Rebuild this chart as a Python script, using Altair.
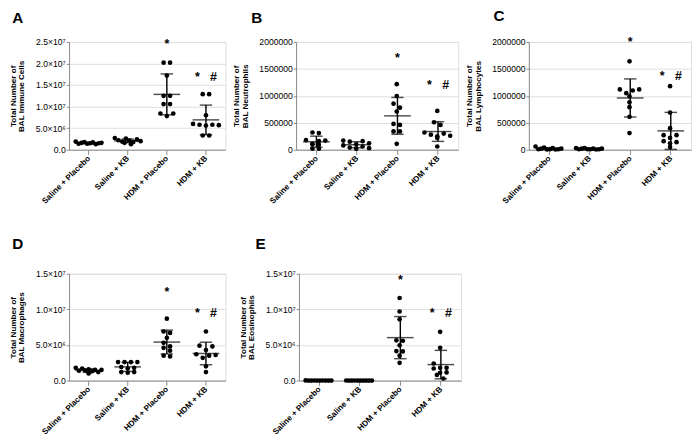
import altair as alt
import pandas as pd

groups = ["Saline + Placebo", "Saline + KB", "HDM + Placebo", "HDM + KB"]

# Panel A: total BAL immune cells
a_saline_placebo = [1.3e6, 1.4e6, 1.4e6, 1.5e6, 1.5e6, 1.6e6, 1.6e6, 1.7e6, 1.8e6, 1.9e6]
a_saline_kb = [1.3e6, 1.6e6, 1.8e6, 1.9e6, 2.0e6, 2.1e6, 2.2e6, 2.4e6, 2.6e6, 2.7e6]
a_hdm_placebo = [2.02e7, 2.02e7, 1.72e7, 1.25e7, 1.25e7, 1.06e7, 1.06e7, 8.4e6, 8.4e6, 7.8e6]
a_hdm_kb = [1.29e7, 1.29e7, 8.0e6, 6.0e6, 5.8e6, 5.7e6, 5.6e6, 5.8e6, 3.3e6, 3.3e6]

# Panel B: neutrophils
b_saline_placebo = [3.2e5, 3.1e5, 1.8e5, 1.7e5, 1.6e5, 1.1e5, 1.0e5, 9e4, 2e4, 2e4]
b_saline_kb = [1.7e5, 1.6e5, 1.5e5, 1.2e5, 1.0e5, 8e4, 6e4, 4e4, 3e4, 2e4]
b_hdm_placebo = [1.216e6, 9.97e5, 8.55e5, 7.8e5, 7.1e5, 4.8e5, 4.6e5, 3.4e5, 3.4e5, 1.1e5]
b_hdm_kb = [7.2e5, 5.1e5, 4.6e5, 3.2e5, 3.0e5, 2.8e5, 2.6e5, 2.5e5, 2.2e5, 6e4]

# Panel C: lymphocytes
c_saline_placebo = [6e4, 4e4, 3e4, 2e4, 2e4, 1e4, 1e4, 1e4, 5e3, 5e3]
c_saline_kb = [3e4, 3e4, 2e4, 2e4, 2e4, 1e4, 1e4, 1e4, 1e4, 5e3]
c_hdm_placebo = [1.64e6, 1.12e6, 1.12e6, 1.10e6, 1.05e6, 9.9e5, 8.8e5, 7.9e5, 6.1e5, 3.1e5]
c_hdm_kb = [1.18e6, 6.9e5, 4.0e5, 2.7e5, 2.7e5, 2.2e5, 1.6e5, 1.4e5, 1.2e5, 5e4]

# Panel D: macrophages
d_saline_placebo = [1.8e6, 1.7e6, 1.6e6, 1.5e6, 1.5e6, 1.4e6, 1.4e6, 1.3e6, 1.2e6, 1.0e6]
d_saline_kb = [2.6e6, 2.6e6, 2.6e6, 2.6e6, 1.9e6, 1.8e6, 1.7e6, 1.2e6, 1.2e6, 1.1e6]
d_hdm_placebo = [8.7e6, 6.9e6, 6.7e6, 6.0e6, 5.3e6, 4.8e6, 4.6e6, 4.2e6, 3.5e6, 3.4e6]
d_hdm_kb = [6.9e6, 4.9e6, 4.8e6, 4.3e6, 3.7e6, 3.6e6, 3.5e6, 3.2e6, 2.0e6, 1.2e6]

# Panel E: eosinophils
e_saline_placebo = [3e4, 2e4, 2e4, 1e4, 1e4, 1e4, 5e3, 5e3, 5e3, 2e3]
e_saline_kb = [2e4, 2e4, 1e4, 1e4, 1e4, 5e3, 5e3, 5e3, 2e3, 2e3]
e_hdm_placebo = [1.16e7, 9.7e6, 8.6e6, 5.65e6, 5.6e6, 4.95e6, 4.15e6, 4.1e6, 3.5e6, 2.5e6]
e_hdm_kb = [6.85e6, 4.6e6, 2.4e6, 1.8e6, 1.8e6, 1.7e6, 1.15e6, 1.1e6, 8e5, 3e5]

# significance annotations (group, label, level in data units)
star_groups = ["HDM + Placebo", "HDM + KB"]
star_labels = ["*", "*\u00a0\u00a0\u00a0#"]
a_star_levels = [2.46e7, 1.71e7]
b_star_levels = [1.715e6, 1.216e6]
c_star_levels = [2.01e6, 1.386e6]
d_star_levels = [1.255e7, 9.55e6]
e_star_levels = [1.43e7, 9.64e6]

FONT = "Liberation Sans"
SCI_EXPR = ("datum.value == 0 ? '0.0' : (datum.value < 1e7 ? "
            "format(datum.value / 1e6, '.1f') + '×10⁶' : "
            "format(datum.value / 1e7, '.1f') + '×10⁷')")


def swarm(values, ymax, height, max_half=14.0, gap=7.0, row_tol=4.5):
    """Horizontal offsets (px) for a simple row-based beeswarm."""
    order = sorted(range(len(values)), key=lambda i: -values[i])
    rows = []
    for i in order:
        ypx = values[i] / ymax * height
        if rows and rows[-1]["y0"] - ypx <= row_tol:
            rows[-1]["idx"].append(i)
        else:
            rows.append({"y0": ypx, "idx": [i]})
    offs = [0.0] * len(values)
    for r in rows:
        n = len(r["idx"])
        if n == 1:
            continue
        sp = min(gap, 2 * max_half / (n - 1))
        stride = 3 if n % 3 else (2 if n % 2 else 1)
        for k, i in enumerate(r["idx"]):
            pos = (k * stride) % n
            offs[i] = (pos - (n - 1) / 2) * sp
    return offs


def panel(letter, series, ymax, tick_step, sci, title_lines, width, height,
          star_levels, title_dx, title_offset, title_pad):
    rows = []
    for g, vals in zip(groups, series):
        for v, o in zip(vals, swarm(vals, ymax, height)):
            rows.append({"group": g, "value": v, "off": o})
    df = pd.DataFrame(rows)
    stars = pd.DataFrame({"group": star_groups, "label": star_labels,
                          "level": star_levels})
    step = width / 4.0

    ticks = []
    t = 0.0
    while t <= ymax * 1.0001:
        ticks.append(t)
        t += tick_step

    xaxis = alt.Axis(title=None, labelAngle=315, labelAlign="right",
                     labelBaseline="middle", labelFontSize=8.5,
                     labelFontWeight="bold", tickSize=5, labelPadding=2)
    x = alt.X("group:N", sort=groups,
              scale=alt.Scale(paddingInner=0, paddingOuter=0), axis=xaxis)
    yscale = alt.Scale(domain=[0, ymax], nice=False, zero=True)
    common = dict(title=title_lines, values=ticks, tickSize=3, labelPadding=1,
                  titlePadding=title_pad, labelFontSize=9, titleFontSize=8.5,
                  titleLineHeight=9)
    if sci:
        yaxis = alt.Axis(labelExpr=SCI_EXPR, **common)
    else:
        yaxis = alt.Axis(format="d", **common)

    def Y(field):
        return alt.Y(field, scale=yscale, axis=yaxis)

    base = alt.Chart(df)
    pts = base.mark_circle(size=24, color="black", opacity=1).encode(
        x=x,
        xOffset=alt.XOffset("off:Q", scale=alt.Scale(domain=[-step / 2, step / 2])),
        y=Y("value:Q"),
    )
    stats = base.transform_aggregate(
        m="mean(value)", sd="stdev(value)", groupby=["group"]
    ).transform_calculate(lo="datum.m - datum.sd", hi="datum.m + datum.sd")
    sd_rule = stats.mark_rule(color="black", strokeWidth=1.5).encode(
        x=x, y=Y("lo:Q"), y2="hi:Q")
    mean_tick = stats.mark_tick(color="black", size=28, thickness=1.5).encode(
        x=x, y=Y("m:Q"))
    caps = stats.transform_fold(["lo", "hi"], as_=["k", "cap"]).mark_tick(
        color="black", size=13, thickness=1.5).encode(x=x, y=Y("cap:Q"))
    star_txt = alt.Chart(stars).mark_text(
        fontSize=13, fontWeight="bold", baseline="middle", dy=1,
        color="black", font=FONT).encode(x=x, y=Y("level:Q"), text="label:N")

    return alt.layer(pts, sd_rule, mean_tick, caps, star_txt).properties(
        width=width, height=height,
        title=alt.TitleParams(letter, anchor="start", fontSize=16,
                              fontWeight="bold", dx=title_dx,
                              offset=title_offset, font=FONT, color="black"),
    )


pA = panel("A", [a_saline_placebo, a_saline_kb, a_hdm_placebo, a_hdm_kb],
           2.5e7, 5e6, True, ["Total Number of", "BAL Immune Cells"],
           164, 113, a_star_levels, 4, 13, 10)
pB = panel("B", [b_saline_placebo, b_saline_kb, b_hdm_placebo, b_hdm_kb],
           2e6, 5e5, False, ["Total Number of", "BAL Neutrophils"],
           170, 113, b_star_levels, 20, 13, 10)
pC = panel("C", [c_saline_placebo, c_saline_kb, c_hdm_placebo, c_hdm_kb],
           2e6, 5e5, False, ["Total Number of", "BAL Lymphocytes"],
           170, 113, c_star_levels, 30, 13, 10)
pD = panel("D", [d_saline_placebo, d_saline_kb, d_hdm_placebo, d_hdm_kb],
           1.5e7, 5e6, True, ["Total Number of", "BAL Macrophages"],
           164, 112, d_star_levels, 4, 19, 10)
pE = panel("E", [e_saline_placebo, e_saline_kb, e_hdm_placebo, e_hdm_kb],
           1.5e7, 5e6, True, ["Total Number of", "BAL Eosinophils"],
           170, 112, e_star_levels, 18, 19, 10)

row1 = alt.hconcat(pA, pB, pC, spacing=5)
row2 = alt.hconcat(pD, pE, spacing=12)

chart = alt.vconcat(row1, row2, spacing=31).properties(
    padding={"left": 0, "top": -11, "right": 0, "bottom": 0}
).configure_view(stroke=None).configure_axis(
    domainColor="black", domainWidth=1.5, tickColor="black", tickWidth=1.5,
    labelColor="black", titleColor="black", labelFont=FONT, titleFont=FONT,
    labelFontWeight="bold", titleFontWeight="bold", grid=False,
).configure(background="white")

chart.save("out.html", embed_options={"renderer": "svg", "actions": False})
